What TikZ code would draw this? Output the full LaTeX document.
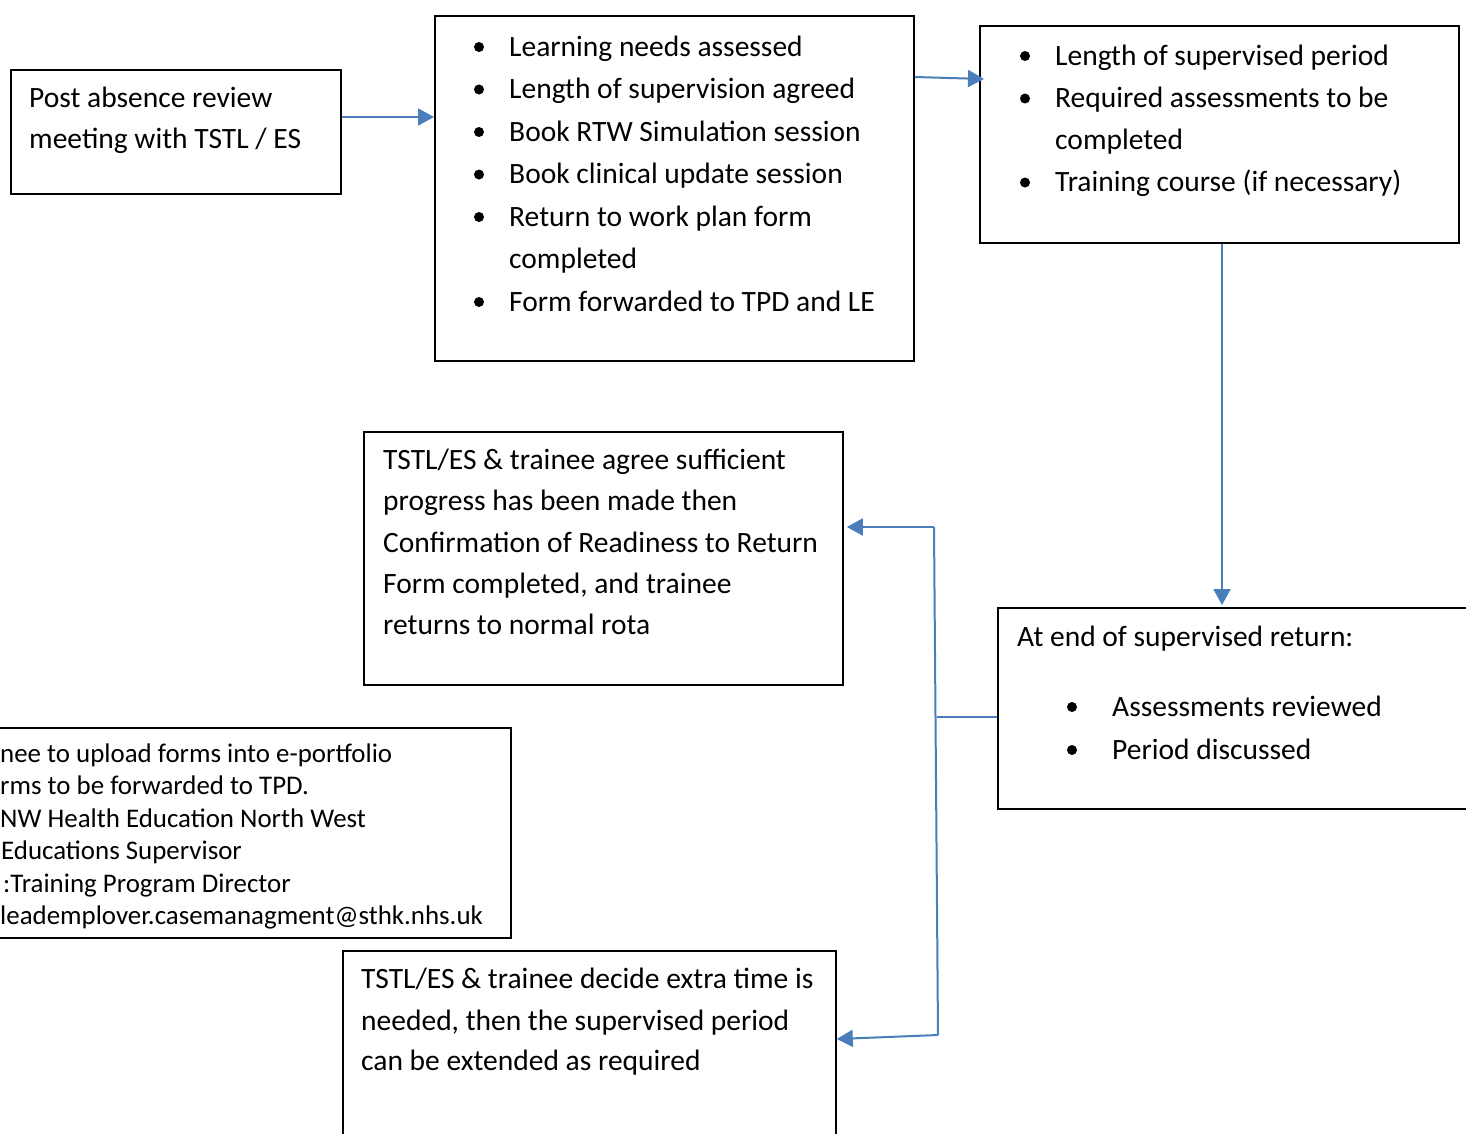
\documentclass[tikz,border=0pt]{standalone}
\usepackage{fontspec}
\setmainfont{Carlito}
\usetikzlibrary{arrows.meta,calc}
\definecolor{connblue}{HTML}{4A7EBB}
\tikzset{
  box/.style={draw=black, line width=1.8pt, anchor=north west, inner sep=0pt, rectangle},
  txt/.style={anchor=base west, inner sep=0pt, font=\fontsize{29.5}{34}\selectfont},
  smalltxt/.style={anchor=base west, inner sep=0pt, font=\fontsize{26.9}{31}\selectfont},
  bul/.style={circle, fill=black, inner sep=0pt, minimum size=10pt},
  connline/.style={draw=connblue, line width=2pt},
  arr/.style={connline, -{Triangle[length=16pt,width=17pt]}},
}
\begin{document}
\begin{tikzpicture}[x=1pt,y=-1pt]
\useasboundingbox (0,0) rectangle (1466,1133);
\clip (0,0) rectangle (1466,1133);

% boxes
\node[box, minimum width=330pt, minimum height=124pt] (box1) at (10,69) {};
\node[box, minimum width=479pt, minimum height=345pt] (box2) at (434,15) {};
\node[box, minimum width=479pt, minimum height=217pt] (box3) at (979,25) {};
\node[box, minimum width=479pt, minimum height=253pt] (box4) at (363,431) {};
\node[box, minimum width=490pt, minimum height=201pt] (box5) at (997,607) {};
\node[box, minimum width=530pt, minimum height=210pt] (box6) at (-20,727) {};
\node[box, minimum width=493pt, minimum height=200pt] (box7) at (342,950) {};

% box1 text
\node[txt] (t1a) at (29,107) {Post absence review};
\node[txt] (t1b) at (29,148) {meeting with TSTL / ES};

% box2 text
\node[bul] (b2a) at (479,47) {};
\node[txt] (t2a) at (509,56) {Learning needs assessed};
\node[bul] (b2b) at (479,89.5) {};
\node[txt] (t2b) at (509,98.5) {Length of supervision agreed};
\node[bul] (b2c) at (479,132) {};
\node[txt] (t2c) at (509,141) {Book RTW Simulation session};
\node[bul] (b2d) at (479,174.5) {};
\node[txt] (t2d) at (509,183.5) {Book clinical update session};
\node[bul] (b2e) at (479,217) {};
\node[txt] (t2e) at (509,226) {Return to work plan form};
\node[txt] (t2f) at (509,268.5) {completed};
\node[bul] (b2g) at (479,302) {};
\node[txt] (t2g) at (509,311) {Form forwarded to TPD and LE};

% box3 text
\node[bul] (b3a) at (1025,56) {};
\node[txt] (t3a) at (1055,65) {Length of supervised period};
\node[bul] (b3b) at (1025,98.5) {};
\node[txt] (t3b) at (1055,107.5) {Required assessments to be};
\node[txt] (t3c) at (1055,149) {completed};
\node[bul] (b3d) at (1025,182.5) {};
\node[txt] (t3d) at (1055,191.5) {Training course (if necessary)};

% box4 text
\node[txt] (t4a) at (383,469) {TSTL/ES \& trainee agree sufficient};
\node[txt] (t4b) at (383,510) {progress has been made then};
\node[txt] (t4c) at (383,552) {Confirmation of Readiness to Return};
\node[txt] (t4d) at (383,593) {Form completed, and trainee};
\node[txt] (t4e) at (383,634) {returns to normal rota};

% box5 text
\node[txt] (t5a) at (1017,646) {At end of supervised return:};
\node[bul] (b5b) at (1072,707) {};
\node[txt] (t5b) at (1112,716) {Assessments reviewed};
\node[bul] (b5c) at (1072,750) {};
\node[txt] (t5c) at (1112,759) {Period discussed};

% box6 text (clipped by the box)
\begin{scope}
\clip (0,729) rectangle (508,931);
\node[smalltxt] (t6a) at (0,762) {nee to upload forms into e-portfolio};
\node[smalltxt] (t6b) at (0,794.5) {rms to be forwarded to TPD.};
\node[smalltxt] (t6c) at (0,827) {NW Health Education North West};
\node[smalltxt] (t6d) at (1,859.5) {Educations Supervisor};
\node[smalltxt] (t6e) at (3,892) {:Training Program Director};
\node[smalltxt] (t6f) at (0,924.5) {leademplover.casemanagment@sthk.nhs.uk};
\end{scope}

% box7 text
\node[txt] (t7a) at (361,988) {TSTL/ES \& trainee decide extra time is};
\node[txt] (t7b) at (361,1030) {needed, then the supervised period};
\node[txt] (t7c) at (361,1070) {can be extended as required};

% connectors
\coordinate (jtop) at (934,527);
\coordinate (jmid) at (937,717);
\coordinate (jbot) at (938,1035);
\draw[arr] (box1.east |- 0,117) -- (box2.west |- 0,117);
\draw[arr] (box2.east |- 0,77) -- ($(box3.west |- 0,79)+(5,0)$);
\draw[arr] (box3.south -| 1222,0) -- ($(box5.north -| 1222,0)+(0,-2)$);
\draw[connline] (box5.west |- jmid) -- (jmid);
\draw[connline] (jtop) -- (jbot);
\draw[arr] (jtop) -- ($(box4.east |- jtop)+(3,0)$);
\draw[arr] (jbot) -- (box7.east |- 0,1039);
\end{tikzpicture}
\end{document}
